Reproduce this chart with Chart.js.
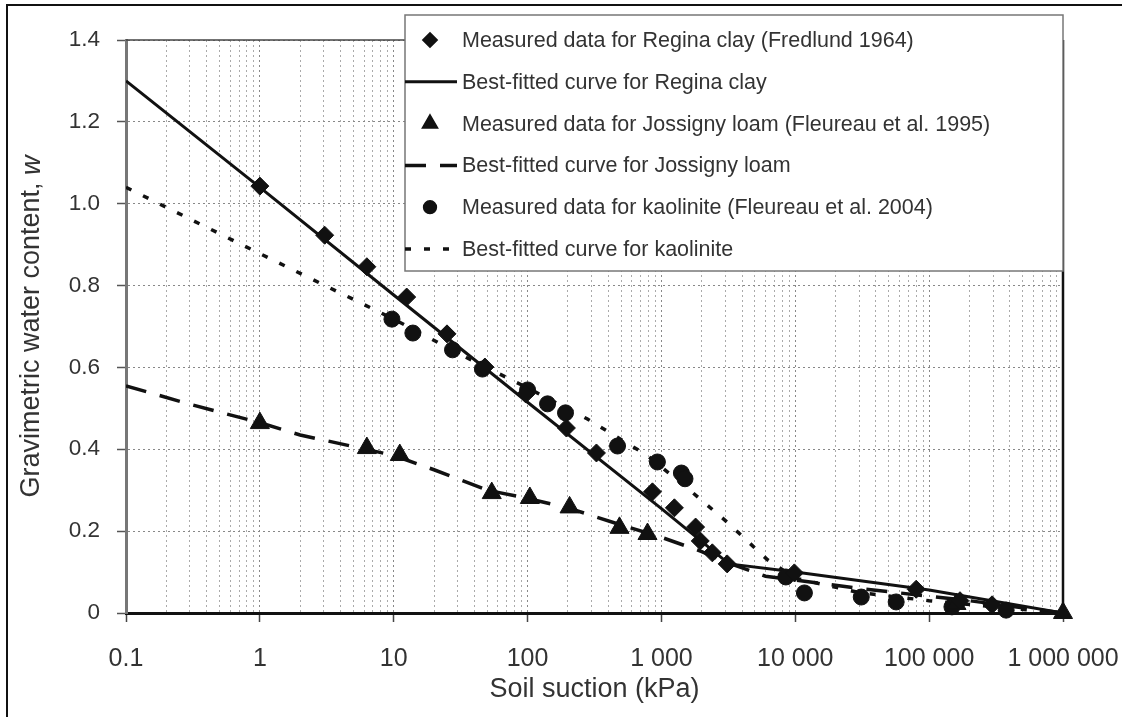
<!DOCTYPE html>
<html>
<head>
<meta charset="utf-8">
<title>Soil-water characteristic curves</title>
<script src="https://cdn.jsdelivr.net/npm/chart.js@4.4.1/dist/chart.umd.min.js"></script>
<style>
  html, body { margin: 0; padding: 0; background: #fff; }
  #wrap { position: relative; width: 1122px; height: 717px; overflow: hidden; }
  #frame {
    position: absolute; left: 6px; top: 4px; right: -10px; bottom: -10px;
    border-left: 2px solid #111; border-top: 2px solid #111; pointer-events: none;
  }
</style>
</head>
<body>
<div id="wrap">
  <canvas id="swcc" width="1122" height="717"></canvas>
  <div id="frame"></div>
</div>
<script>
// Regina clay
const reginaSuction = [1, 3.05, 6.3, 12.5, 25, 48, 97, 195, 327, 857, 1250, 1800, 1950, 2400, 3100, 9840, 80000, 170000, 295000];
const reginaWater = [1.043, 0.923, 0.846, 0.772, 0.682, 0.601, 0.535, 0.452, 0.391, 0.296, 0.257, 0.21, 0.176, 0.147, 0.12, 0.098, 0.058, 0.03, 0.02];
const reginaFitSuction = [0.1, 1, 10, 100, 1000, 3200, 10000, 100000, 1000000];
const reginaFitWater = [1.30, 1.04, 0.777, 0.515, 0.255, 0.12, 0.1, 0.056, 0];

// Jossigny loam
const jossignySuction = [1.0, 6.3, 11.1, 54, 104, 206, 486, 787, 160000, 1000000];
const jossignyWater = [0.464, 0.403, 0.386, 0.293, 0.281, 0.258, 0.208, 0.193, 0.022, 0];
const jossignyFitSuction = [0.1, 0.3, 1, 2, 10, 20, 50, 100, 200, 500, 1000, 2000, 3000, 6000, 30000, 200000, 1000000];
const jossignyFitWater = [0.555, 0.51, 0.465, 0.435, 0.385, 0.35, 0.30, 0.28, 0.257, 0.215, 0.185, 0.15, 0.125, 0.09, 0.06, 0.03, 0];

// kaolinite
const kaoliniteSuction = [9.7, 13.9, 27.5, 46, 100, 141, 192, 470, 933, 1410, 1500, 8500, 11700, 31100, 56700, 148000, 376000];
const kaoliniteWater = [0.718, 0.684, 0.643, 0.596, 0.545, 0.511, 0.489, 0.408, 0.369, 0.342, 0.328, 0.088, 0.049, 0.039, 0.027, 0.015, 0.007];
const kaoliniteFitSuction = [0.1, 1, 10, 37, 100, 280, 773, 1563, 3100, 6200, 10000, 30000, 100000, 1000000];
const kaoliniteFitWater = [1.04, 0.878, 0.718, 0.62, 0.55, 0.474, 0.386, 0.305, 0.222, 0.13, 0.085, 0.05, 0.03, 0];

const decadeValues = [0.1, 1, 10, 100, 1000, 10000, 100000, 1000000];
const decadeLabels = ['0.1', '1', '10', '100', '1 000', '10 000', '100 000', '1 000 000'];

const seriesLabels = [
  'Measured data for Regina clay (Fredlund 1964)',
  'Best-fitted curve for Regina clay',
  'Measured data for Jossigny loam (Fleureau et al. 1995)',
  'Best-fitted curve for Jossigny loam',
  'Measured data for kaolinite (Fleureau et al. 2004)',
  'Best-fitted curve for kaolinite'
];

const xTitle = 'Soil suction (kPa)';
const yTitle = 'Gravimetric water content, ';
const yTitleSymbol = 'w';

const INK = '#111';
const TEXT = '#333';
const plainFont = "'Liberation Sans', Arial, sans-serif";

function pairs(xs, ys) {
  return xs.map((x, i) => ({ x: x, y: ys[i] }));
}

function isDecade(v) {
  const e = Math.log10(v);
  return Math.abs(e - Math.round(e)) < 1e-9;
}

// 1..9 x 10^n grid positions between the first and last decade
const gridValues = [];
for (let i = 0; i < decadeValues.length - 1; i++) {
  for (let k = 1; k <= 9; k++) {
    gridValues.push(Number((decadeValues[i] * k).toPrecision(6)));
  }
}
gridValues.push(decadeValues[decadeValues.length - 1]);

function markers(label, xs, ys, style, radius) {
  return {
    label: label,
    data: pairs(xs, ys),
    showLine: false,
    pointStyle: style,
    pointRadius: radius,
    pointBackgroundColor: INK,
    pointBorderColor: INK,
    pointBorderWidth: 1,
    clip: false,
    order: 1
  };
}

function curve(label, xs, ys, dash, width) {
  return {
    label: label,
    data: pairs(xs, ys),
    showLine: true,
    borderColor: INK,
    borderWidth: width,
    borderDash: dash,
    pointRadius: 0,
    tension: 0,
    order: 2
  };
}

const datasets = [
  markers(seriesLabels[0], reginaSuction, reginaWater, 'rectRot', 9),
  curve(seriesLabels[1], reginaFitSuction, reginaFitWater, [], 3),
  markers(seriesLabels[2], jossignySuction, jossignyWater, 'triangle', 11),
  curve(seriesLabels[3], jossignyFitSuction, jossignyFitWater, [21, 14], 3.5),
  markers(seriesLabels[4], kaoliniteSuction, kaoliniteWater, 'circle', 8),
  curve(seriesLabels[5], kaoliniteFitSuction, kaoliniteFitWater, [6, 13], 3.5)
];

// top and right edges of the plot frame
const frameLines = {
  id: 'frameLines',
  beforeDatasetsDraw(chart) {
    const { ctx, chartArea: a } = chart;
    ctx.save();
    ctx.strokeStyle = '#444';
    ctx.lineWidth = 1.5;
    ctx.beginPath();
    ctx.moveTo(a.left, a.top);
    ctx.lineTo(a.right, a.top);
    ctx.stroke();
    ctx.strokeStyle = INK;
    ctx.lineWidth = 2.5;
    ctx.beginPath();
    ctx.moveTo(a.right, a.top);
    ctx.lineTo(a.right, a.bottom + 1);
    ctx.stroke();
    ctx.restore();
  }
};

// boxed legend in the upper right corner
const boxLegend = {
  id: 'boxLegend',
  afterDraw(chart) {
    const ctx = chart.ctx;
    const a = chart.chartArea;
    const box = { left: 405, top: 15, right: a.right, bottom: 271 };
    ctx.save();
    ctx.fillStyle = '#fff';
    ctx.fillRect(box.left, box.top, box.right - box.left, box.bottom - box.top);
    ctx.strokeStyle = '#777';
    ctx.lineWidth = 1.5;
    ctx.strokeRect(box.left, box.top, box.right - box.left, box.bottom - box.top);

    ctx.font = '21.5px ' + plainFont;
    ctx.fillStyle = TEXT;
    ctx.textBaseline = 'middle';
    chart.data.datasets.forEach((ds, i) => {
      const y = box.top + 25 + i * 41.8;
      if (ds.showLine) {
        ctx.save();
        ctx.strokeStyle = INK;
        ctx.lineWidth = ds.borderWidth;
        ctx.setLineDash(ds.borderDash);
        ctx.beginPath();
        ctx.moveTo(box.left, y);
        ctx.lineTo(box.left + 52, y);
        ctx.stroke();
        ctx.restore();
      } else {
        ctx.save();
        ctx.fillStyle = INK;
        ctx.strokeStyle = INK;
        Chart.helpers.drawPoint(ctx, {
          pointStyle: ds.pointStyle,
          radius: ds.pointRadius * 0.8,
          rotation: 0,
          borderWidth: 1
        }, box.left + 25, y);
        ctx.restore();
      }
      ctx.fillText(ds.label, box.left + 57, y + 1);
    });
    ctx.restore();
  }
};

// axis titles; the water content symbol is set in italics
const axisTitles = {
  id: 'axisTitles',
  afterDraw(chart) {
    const { ctx, chartArea: a } = chart;
    ctx.save();
    ctx.fillStyle = TEXT;
    ctx.textBaseline = 'middle';
    ctx.textAlign = 'center';
    ctx.font = '27px ' + plainFont;
    ctx.fillText(xTitle, (a.left + a.right) / 2, 690);

    ctx.translate(32, (a.top + a.bottom) / 2);
    ctx.rotate(-Math.PI / 2);
    ctx.textAlign = 'left';
    const upright = '27px ' + plainFont;
    const slanted = 'italic 27px ' + plainFont;
    ctx.font = upright;
    const w1 = ctx.measureText(yTitle).width;
    ctx.font = slanted;
    const w2 = ctx.measureText(yTitleSymbol).width;
    const start = -(w1 + w2) / 2;
    ctx.font = upright;
    ctx.fillText(yTitle, start, 0);
    ctx.font = slanted;
    ctx.fillText(yTitleSymbol, start + w1, 0);
    ctx.restore();
  }
};

new Chart(document.getElementById('swcc'), {
  type: 'scatter',
  data: { datasets: datasets },
  plugins: [frameLines, boxLegend, axisTitles],
  options: {
    responsive: false,
    animation: false,
    devicePixelRatio: 1,
    layout: { padding: { left: 0, top: 40, right: 59, bottom: 0 } },
    plugins: {
      legend: { display: false },
      tooltip: { enabled: false }
    },
    scales: {
      x: {
        type: 'logarithmic',
        min: 0.1,
        max: 1000000,
        afterBuildTicks: scale => {
          scale.ticks = gridValues.map(v => ({ value: v, major: isDecade(v) }));
        },
        afterFit: scale => {
          scale.height = 104;
          scale.paddingLeft = 0;
          scale.paddingRight = 0;
        },
        ticks: {
          autoSkip: false,
          maxRotation: 0,
          padding: 22,
          color: TEXT,
          font: { family: plainFont, size: 25 },
          callback: value => {
            const i = decadeValues.findIndex(d => Math.abs(Math.log10(d) - Math.log10(value)) < 1e-9);
            return i >= 0 ? decadeLabels[i] : '';
          }
        },
        grid: {
          color: ctx => (ctx.tick && isDecade(ctx.tick.value) ? '#888' : '#aaa'),
          lineWidth: 1,
          tickLength: 9,
          tickWidth: 1.5,
          tickColor: ctx => (ctx.tick && isDecade(ctx.tick.value) ? '#444' : 'rgba(0,0,0,0)'),
          tickBorderDash: [1, 0]
        },
        border: { display: true, color: INK, width: 3, dash: [2, 3] }
      },
      y: {
        min: 0,
        max: 1.4,
        afterFit: scale => { scale.width = 126; },
        ticks: {
          stepSize: 0.2,
          padding: 17,
          color: TEXT,
          font: { family: plainFont, size: 22.5 },
          callback: value => (Math.abs(value) < 1e-9 ? '0' : Number(value).toFixed(1))
        },
        grid: {
          color: '#888',
          lineWidth: 1,
          tickLength: 9,
          tickWidth: 1.5,
          tickColor: '#555',
          tickBorderDash: [1, 0]
        },
        border: { display: true, color: '#777', width: 3, dash: [2, 3] }
      }
    }
  }
});
</script>
</body>
</html>
